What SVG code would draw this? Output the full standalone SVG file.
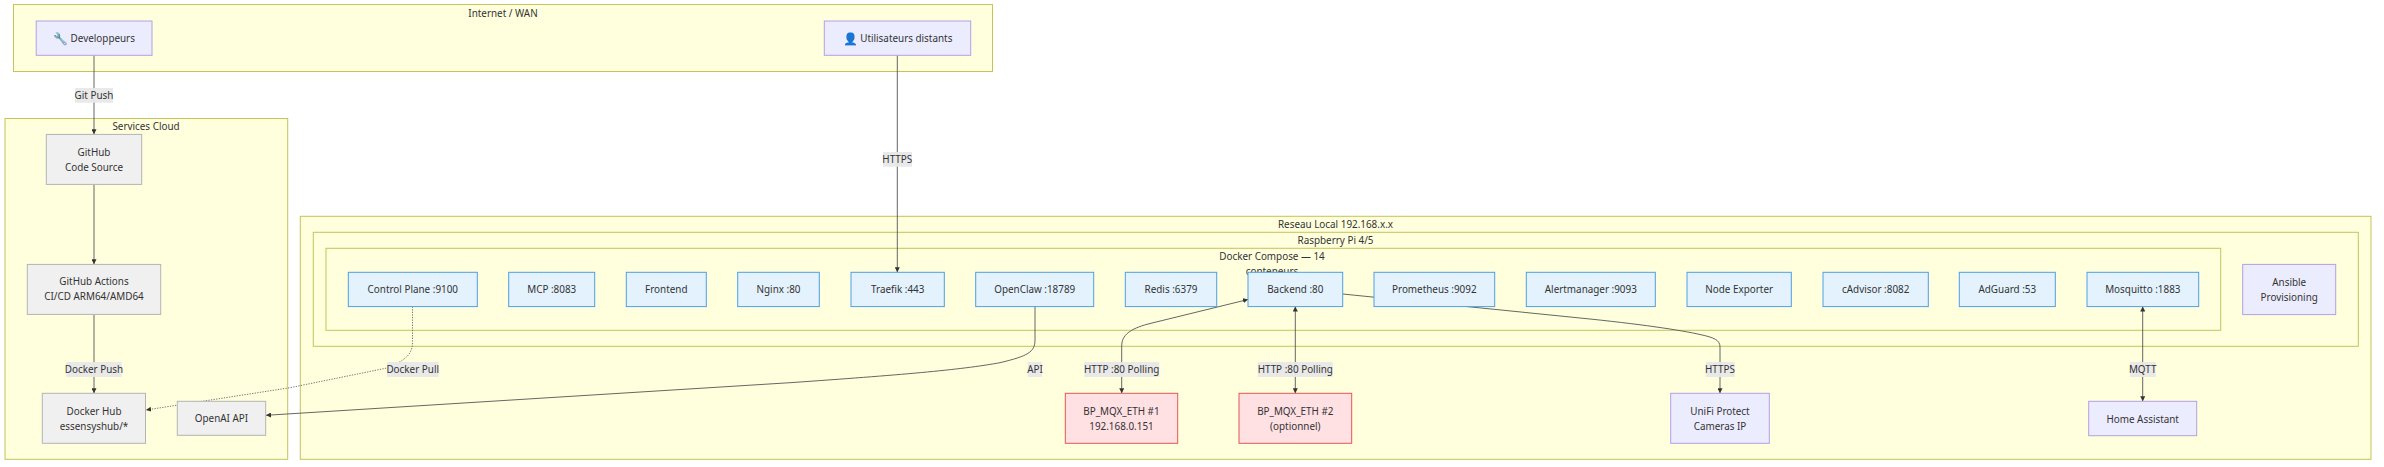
<svg xmlns="http://www.w3.org/2000/svg" width="2384" height="467" viewBox="0 0 2384 467">
<style>
text{font-family:"Noto Sans",sans-serif;font-size:9.9px;fill:#333;text-anchor:middle;dominant-baseline:central}
.em{font-size:12px}
.c{fill:#ffffde;stroke:#c4c45a;stroke-width:1}
.n rect{stroke-width:1}
.p rect{fill:#ececff;stroke:#b49fe6}
.g rect{fill:#f0f0f0;stroke:#b3b3b3}
.b rect{fill:#e3f2fd;stroke:#4d9fe6}
.r rect{fill:#ffe0e3;stroke:#e35757}
.l{fill:#e8e8e8;fill-opacity:.95;stroke:none}
.e{fill:none;stroke:#555;stroke-width:.9}
.d{stroke-dasharray:1.3 1.3;stroke:#666;stroke-width:.9}
</style>
<defs>
<marker id="a" markerUnits="userSpaceOnUse" markerWidth="5" markerHeight="5" refX="5" refY="2.500" orient="auto-start-reverse" viewBox="0 0 5 5"><path d="M0 0L5 2.500L0 5z" fill="#333"/></marker>
</defs>
<g id="clusters">
<g id="internet"><rect class="c" x="13.500" y="4.500" width="979" height="67"/><text x="503" y="12.500">Internet / WAN</text></g>
<g id="cloud"><rect class="c" x="5" y="118.500" width="282.700" height="340.800"/><text x="146" y="126.300">Services Cloud</text></g>
<g id="reseau"><rect class="c" x="300.300" y="216.300" width="2070.700" height="243"/><text x="1335.500" y="223.500">Reseau Local 192.168.x.x</text></g>
<g id="rpi"><rect class="c" x="313.300" y="232.300" width="2045" height="114"/><text x="1335.500" y="239.500">Raspberry Pi 4/5</text></g>
<g id="compose"><rect class="c" x="326" y="248.300" width="1894.700" height="82"/><text x="1272" y="255.500">Docker Compose — 14</text><text x="1272" y="270.500">conteneurs</text></g>
</g>
<g id="connectors">
<path class="e" marker-end="url(#a)" d="M94 55.300V134.300"/>
<path class="e" marker-end="url(#a)" d="M897.300 55.300V272.300"/>
<path class="e" marker-end="url(#a)" d="M94 184.400V264.300"/>
<path class="e" marker-end="url(#a)" d="M94 314.400V393.300"/>
<path class="e d" marker-end="url(#a)" d="M412.500 306.500V342C412.500 352 408 358 395 364.500C392 366 389 367.500 387 368L290 387.700L146 410"/>
<path class="e" marker-end="url(#a)" d="M1035 306.500V340C1035 352 1028 356 1000 362.700C960 370 900 375 790 382.700L266 415.300"/>
<path class="e" marker-start="url(#a)" marker-end="url(#a)" d="M1121.700 393.300V346C1121.700 335 1130 329 1148 324L1248 299.500"/>
<path class="e" marker-start="url(#a)" marker-end="url(#a)" d="M1295.300 393.300V306.500"/>
<path class="e" marker-end="url(#a)" d="M1342.700 294L1580 318C1640 324 1680 330 1700 334.500C1714 337.500 1720 340 1720 347V393.300"/>
<path class="e" marker-start="url(#a)" marker-end="url(#a)" d="M2142.700 401.300V306.500"/>
</g>
<g id="edge-labels">
<g><rect class="l" x="75" y="88" width="38" height="14.700"/><text x="94" y="94.700">Git Push</text></g>
<g><rect class="l" x="883" y="152" width="29" height="14.700"/><text x="897.300" y="159">HTTPS</text></g>
<g><rect class="l" x="66.300" y="362" width="55.400" height="15"/><text x="94" y="369">Docker Push</text></g>
<g><rect class="l" x="387" y="362" width="51.500" height="15"/><text x="412.700" y="369">Docker Pull</text></g>
<g><rect class="l" x="1027.700" y="362" width="14.300" height="15"/><text x="1035" y="369">API</text></g>
<g><rect class="l" x="1084.300" y="362" width="75" height="15"/><text x="1121.700" y="369">HTTP :80 Polling</text></g>
<g><rect class="l" x="1257.700" y="362" width="75" height="15"/><text x="1295.300" y="369">HTTP :80 Polling</text></g>
<g><rect class="l" x="1705.700" y="362" width="29" height="15"/><text x="1720" y="369">HTTPS</text></g>
<g><rect class="l" x="2130" y="362" width="25.700" height="15"/><text x="2142.700" y="369">MQTT</text></g>
</g>
<g id="nodes">
<g id="devs" class="n p"><rect x="36.200" y="21" width="115.800" height="34.300"/><text x="94" y="38"><tspan class="em">🔧</tspan> Developpeurs</text></g>
<g id="users" class="n p"><rect x="824.300" y="21" width="146.400" height="34.300"/><text x="897.500" y="38"><tspan class="em">👤</tspan> Utilisateurs distants</text></g>
<g id="github" class="n g"><rect x="46.300" y="134.400" width="95.400" height="50"/><text x="94" y="151.500">GitHub</text><text x="94" y="167">Code Source</text></g>
<g id="actions" class="n g"><rect x="27.300" y="264.400" width="133.400" height="50"/><text x="94" y="281.300">GitHub Actions</text><text x="94" y="296.300">CI/CD ARM64/AMD64</text></g>
<g id="hub" class="n g"><rect x="42.300" y="393.300" width="103.200" height="50"/><text x="94" y="410.500">Docker Hub</text><text x="94" y="425.500">essensyshub/*</text></g>
<g id="openai" class="n g"><rect x="177.300" y="401.300" width="88.400" height="34"/><text x="221.500" y="418">OpenAI API</text></g>
<g id="control" class="n b"><rect x="348.300" y="272.300" width="129" height="34.300"/><text x="412.800" y="289.300">Control Plane :9100</text></g>
<g id="mcp" class="n b"><rect x="508.700" y="272.300" width="86" height="34.300"/><text x="551.700" y="289.300">MCP :8083</text></g>
<g id="frontend" class="n b"><rect x="626.300" y="272.300" width="80" height="34.300"/><text x="666.300" y="289.300">Frontend</text></g>
<g id="nginx" class="n b"><rect x="737.700" y="272.300" width="81.600" height="34.300"/><text x="778.500" y="289.300">Nginx :80</text></g>
<g id="traefik" class="n b"><rect x="851" y="272.300" width="93.300" height="34.300"/><text x="897.700" y="289.300">Traefik :443</text></g>
<g id="openclaw" class="n b"><rect x="975.700" y="272.300" width="118" height="34.300"/><text x="1034.700" y="289.300">OpenClaw :18789</text></g>
<g id="redis" class="n b"><rect x="1125.300" y="272.300" width="91.400" height="34.300"/><text x="1171" y="289.300">Redis :6379</text></g>
<g id="backend" class="n b"><rect x="1248" y="272.300" width="94.700" height="34.300"/><text x="1295.300" y="289.300">Backend :80</text></g>
<g id="prometheus" class="n b"><rect x="1374" y="272.300" width="120.700" height="34.300"/><text x="1434.300" y="289.300">Prometheus :9092</text></g>
<g id="alertmanager" class="n b"><rect x="1526.300" y="272.300" width="129" height="34.300"/><text x="1590.800" y="289.300">Alertmanager :9093</text></g>
<g id="nodeexporter" class="n b"><rect x="1687" y="272.300" width="104.300" height="34.300"/><text x="1739.200" y="289.300">Node Exporter</text></g>
<g id="cadvisor" class="n b"><rect x="1823" y="272.300" width="105.300" height="34.300"/><text x="1875.700" y="289.300">cAdvisor :8082</text></g>
<g id="adguard" class="n b"><rect x="1959.300" y="272.300" width="96" height="34.300"/><text x="2007.300" y="289.300">AdGuard :53</text></g>
<g id="mosquitto" class="n b"><rect x="2087" y="272.300" width="111.700" height="34.300"/><text x="2142.800" y="289.300">Mosquitto :1883</text></g>
<g id="ansible" class="n p"><rect x="2242.700" y="264.400" width="93" height="50.200"/><text x="2289.200" y="281.500">Ansible</text><text x="2289.200" y="296.500">Provisioning</text></g>
<g id="bp1" class="n r"><rect x="1065.300" y="393.300" width="112.400" height="50"/><text x="1121.500" y="410.500">BP_MQX_ETH #1</text><text x="1121.500" y="425.500">192.168.0.151</text></g>
<g id="bp2" class="n r"><rect x="1239" y="393.300" width="112.700" height="50"/><text x="1295.300" y="410.500">BP_MQX_ETH #2</text><text x="1295.300" y="425.500">(optionnel)</text></g>
<g id="unifi" class="n p"><rect x="1670.700" y="393.300" width="98.600" height="50"/><text x="1720" y="410.500">UniFi Protect</text><text x="1720" y="425.500">Cameras IP</text></g>
<g id="ha" class="n p"><rect x="2088.700" y="401.300" width="108" height="34.400"/><text x="2142.700" y="418.500">Home Assistant</text></g>
</g>
</svg>
